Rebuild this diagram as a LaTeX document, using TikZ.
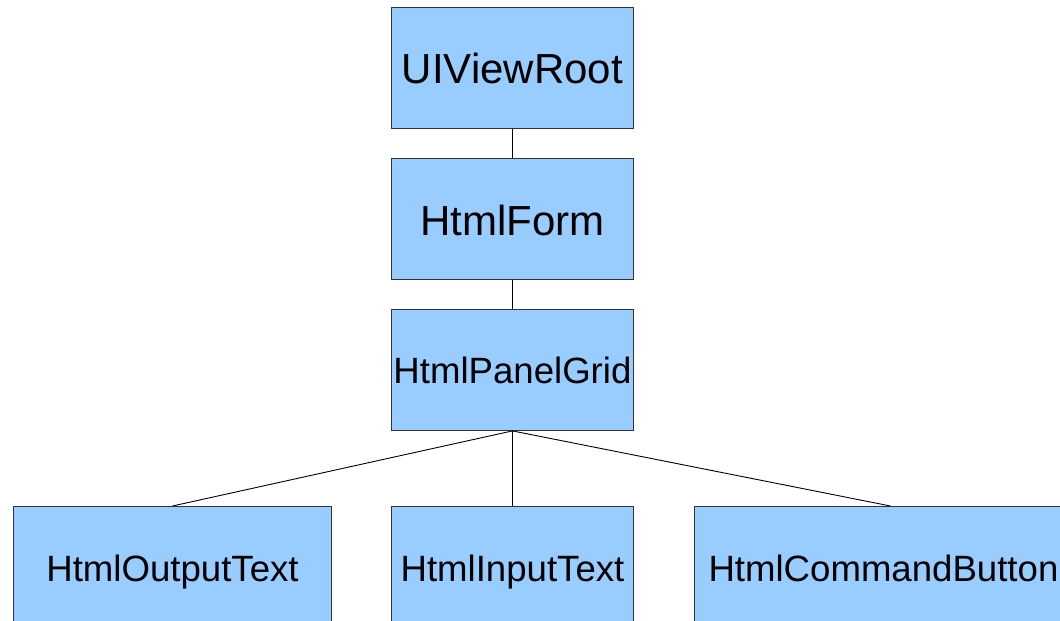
\documentclass[tikz,border=0pt]{standalone}
\usepackage{fontspec}
\setmainfont{Liberation Sans}
\definecolor{boxfill}{HTML}{99CCFF}
\definecolor{boxline}{HTML}{333333}
\tikzset{
  comp/.style={draw=boxline, fill=boxfill, line width=0.9pt, inner sep=0pt,
    minimum height=121pt, anchor=north west},
  big/.style={font=\fontsize{42}{50}\selectfont, anchor=base, inner sep=0pt},
  small/.style={font=\fontsize{36.6}{44}\selectfont, anchor=base, inner sep=0pt},
  link/.style={draw=black, line width=0.9pt}
}
\begin{document}
\begin{tikzpicture}[x=1pt,y=-1pt]
  \useasboundingbox (0,0) rectangle (1060,621);
  \fill[white] (0,0) rectangle (1060,621);
  % component tree
  \node[comp, minimum width=242pt] (root) at (391,7) {};
  \node[big] at ([yshift=-76pt]root.north) {UIViewRoot};
  \node[comp, minimum width=242pt] (form) at (391,158) {};
  \node[big] at ([yshift=-77pt]form.north) {HtmlForm};
  \node[comp, minimum width=242pt] (grid) at (391,309) {};
  \node[small] at ([yshift=-74pt]grid.north) {HtmlPanelGrid};
  \node[comp, minimum width=318pt] (out) at (13,506) {};
  \node[small] at ([yshift=-75pt]out.north) {HtmlOutputText};
  \node[comp, minimum width=242pt] (in) at (391,506) {};
  \node[small] at ([yshift=-75pt]in.north) {HtmlInputText};
  \node[comp, minimum width=392pt] (btn) at (694,506) {};
  \node[small] at ([xshift=-7pt,yshift=-75pt]btn.north) {HtmlCommandButton};
  % parent-child links
  \draw[link] (root.south) -- (form.north);
  \draw[link] (form.south) -- (grid.north);
  \draw[link] (grid.south) -- (out.north);
  \draw[link] (grid.south) -- (in.north);
  \draw[link] (grid.south) -- (btn.north);
\end{tikzpicture}
\end{document}
